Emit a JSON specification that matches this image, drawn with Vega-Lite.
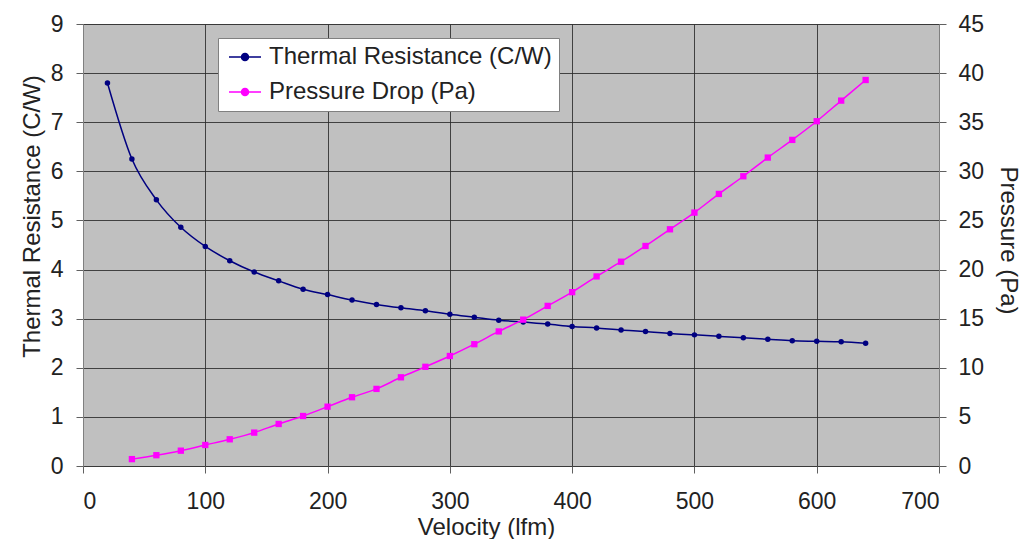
{
  "$schema": "https://vega.github.io/schema/vega-lite/v6.json",
  "width": 856,
  "height": 442,
  "autosize": {"type": "none"},
  "padding": {"left": 83, "top": 24, "right": 90, "bottom": 73},
  "background": "white",
  "config": {
    "font": "Liberation Sans",
    "view": {"fill": "#C0C0C0", "stroke": "#909090", "strokeWidth": 1},
    "axis": {
      "labelFont": "Liberation Sans",
      "titleFont": "Liberation Sans",
      "labelFontSize": 23,
      "titleFontSize": 24,
      "titleFontWeight": "normal",
      "labelColor": "#222222",
      "titleColor": "#222222",
      "domainColor": "#808080",
      "tickColor": "#606060",
      "tickSize": 7,
      "gridColor": "#2a2a2a",
      "gridWidth": 1,
      "gridOpacity": 0.85
    }
  },
  "data": {
    "values": [
      {"v": 20, "series": "Thermal Resistance (C/W)", "val": 7.8},
      {"v": 40, "series": "Thermal Resistance (C/W)", "val": 6.25},
      {"v": 60, "series": "Thermal Resistance (C/W)", "val": 5.42},
      {"v": 80, "series": "Thermal Resistance (C/W)", "val": 4.86},
      {"v": 100, "series": "Thermal Resistance (C/W)", "val": 4.47},
      {"v": 120, "series": "Thermal Resistance (C/W)", "val": 4.18},
      {"v": 140, "series": "Thermal Resistance (C/W)", "val": 3.95},
      {"v": 160, "series": "Thermal Resistance (C/W)", "val": 3.77},
      {"v": 180, "series": "Thermal Resistance (C/W)", "val": 3.6},
      {"v": 200, "series": "Thermal Resistance (C/W)", "val": 3.49},
      {"v": 220, "series": "Thermal Resistance (C/W)", "val": 3.38},
      {"v": 240, "series": "Thermal Resistance (C/W)", "val": 3.29},
      {"v": 260, "series": "Thermal Resistance (C/W)", "val": 3.22},
      {"v": 280, "series": "Thermal Resistance (C/W)", "val": 3.16},
      {"v": 300, "series": "Thermal Resistance (C/W)", "val": 3.09},
      {"v": 320, "series": "Thermal Resistance (C/W)", "val": 3.03},
      {"v": 340, "series": "Thermal Resistance (C/W)", "val": 2.97},
      {"v": 360, "series": "Thermal Resistance (C/W)", "val": 2.93},
      {"v": 380, "series": "Thermal Resistance (C/W)", "val": 2.89},
      {"v": 400, "series": "Thermal Resistance (C/W)", "val": 2.84},
      {"v": 420, "series": "Thermal Resistance (C/W)", "val": 2.81},
      {"v": 440, "series": "Thermal Resistance (C/W)", "val": 2.77},
      {"v": 460, "series": "Thermal Resistance (C/W)", "val": 2.74},
      {"v": 480, "series": "Thermal Resistance (C/W)", "val": 2.7},
      {"v": 500, "series": "Thermal Resistance (C/W)", "val": 2.67},
      {"v": 520, "series": "Thermal Resistance (C/W)", "val": 2.64},
      {"v": 540, "series": "Thermal Resistance (C/W)", "val": 2.61},
      {"v": 560, "series": "Thermal Resistance (C/W)", "val": 2.58},
      {"v": 580, "series": "Thermal Resistance (C/W)", "val": 2.55},
      {"v": 600, "series": "Thermal Resistance (C/W)", "val": 2.54},
      {"v": 620, "series": "Thermal Resistance (C/W)", "val": 2.53},
      {"v": 640, "series": "Thermal Resistance (C/W)", "val": 2.5},
      {"v": 40, "series": "Pressure Drop (Pa)", "val": 0.7},
      {"v": 60, "series": "Pressure Drop (Pa)", "val": 1.1},
      {"v": 80, "series": "Pressure Drop (Pa)", "val": 1.56},
      {"v": 100, "series": "Pressure Drop (Pa)", "val": 2.14},
      {"v": 120, "series": "Pressure Drop (Pa)", "val": 2.72},
      {"v": 140, "series": "Pressure Drop (Pa)", "val": 3.4},
      {"v": 160, "series": "Pressure Drop (Pa)", "val": 4.28},
      {"v": 180, "series": "Pressure Drop (Pa)", "val": 5.09},
      {"v": 200, "series": "Pressure Drop (Pa)", "val": 6.04},
      {"v": 220, "series": "Pressure Drop (Pa)", "val": 7.0},
      {"v": 240, "series": "Pressure Drop (Pa)", "val": 7.85},
      {"v": 260, "series": "Pressure Drop (Pa)", "val": 9.03},
      {"v": 280, "series": "Pressure Drop (Pa)", "val": 10.1},
      {"v": 300, "series": "Pressure Drop (Pa)", "val": 11.2},
      {"v": 320, "series": "Pressure Drop (Pa)", "val": 12.4},
      {"v": 340, "series": "Pressure Drop (Pa)", "val": 13.7},
      {"v": 360, "series": "Pressure Drop (Pa)", "val": 14.9},
      {"v": 380, "series": "Pressure Drop (Pa)", "val": 16.3},
      {"v": 400, "series": "Pressure Drop (Pa)", "val": 17.7},
      {"v": 420, "series": "Pressure Drop (Pa)", "val": 19.3},
      {"v": 440, "series": "Pressure Drop (Pa)", "val": 20.8},
      {"v": 460, "series": "Pressure Drop (Pa)", "val": 22.4},
      {"v": 480, "series": "Pressure Drop (Pa)", "val": 24.1},
      {"v": 500, "series": "Pressure Drop (Pa)", "val": 25.8},
      {"v": 520, "series": "Pressure Drop (Pa)", "val": 27.7},
      {"v": 540, "series": "Pressure Drop (Pa)", "val": 29.5},
      {"v": 560, "series": "Pressure Drop (Pa)", "val": 31.4},
      {"v": 580, "series": "Pressure Drop (Pa)", "val": 33.2},
      {"v": 600, "series": "Pressure Drop (Pa)", "val": 35.1},
      {"v": 620, "series": "Pressure Drop (Pa)", "val": 37.2},
      {"v": 640, "series": "Pressure Drop (Pa)", "val": 39.3}
    ]
  },
  "encoding": {
    "x": {
      "field": "v",
      "type": "quantitative",
      "scale": {"domain": [0, 700], "nice": false},
      "axis": {
        "title": "Velocity (lfm)",
        "values": [0, 100, 200, 300, 400, 500, 600, 700],
        "labelPadding": 17,
        "titleX": 403,
        "titleY": 49,
        "titleBaseline": "top",
        "grid": true,
        "domain": false
      }
    },
    "color": {
      "field": "series",
      "type": "nominal",
      "scale": {
        "domain": ["Thermal Resistance (C/W)", "Pressure Drop (Pa)"],
        "range": ["#000080", "#FF00FF"]
      },
      "legend": {
        "title": null,
        "orient": "none",
        "legendX": 135,
        "legendY": 14,
        "fillColor": "white",
        "strokeColor": "#808080",
        "padding": 7,
        "symbolOffset": 8,
        "labelFontSize": 24,
        "labelFont": "Liberation Sans",
        "labelColor": "#222222",
        "labelOffset": 12,
        "labelLimit": 400,
        "rowPadding": 11,
        "symbolType": "M-1.6,0H1.6M-0.35,0A0.35,0.35 0 1,1 0.35,0A0.35,0.35 0 1,1 -0.35,0Z",
        "symbolSize": 400,
        "symbolStrokeWidth": 1.5,
        "symbolFillColor": null
      }
    }
  },
  "layer": [
    {
      "transform": [{"filter": "datum.series === 'Thermal Resistance (C/W)'"}],
      "encoding": {
        "y": {
          "field": "val",
          "type": "quantitative",
          "scale": {"domain": [0, 9], "nice": false},
          "axis": {
            "title": "Thermal Resistance (C/W)",
            "orient": "left",
            "values": [0, 1, 2, 3, 4, 5, 6, 7, 8, 9],
            "grid": true,
            "labelPadding": 13,
            "titlePadding": 6,
            "titleY": 192
          }
        }
      },
      "layer": [
        {"mark": {"type": "line", "interpolate": "monotone", "strokeWidth": 1.5}},
        {"mark": {"type": "point", "shape": "circle", "filled": true, "size": 30, "opacity": 1}}
      ]
    },
    {
      "transform": [{"filter": "datum.series === 'Pressure Drop (Pa)'"}],
      "encoding": {
        "y": {
          "field": "val",
          "type": "quantitative",
          "scale": {"domain": [0, 45], "nice": false},
          "axis": {
            "title": "Pressure (Pa)",
            "orient": "right",
            "values": [0, 5, 10, 15, 20, 25, 30, 35, 40, 45],
            "grid": false,
            "labelPadding": 12,
            "titlePadding": 12,
            "titleY": 216
          }
        }
      },
      "layer": [
        {"mark": {"type": "line", "interpolate": "monotone", "strokeWidth": 1.5, "color": "#E040E0"}},
        {"mark": {"type": "point", "shape": "square", "filled": true, "size": 40, "opacity": 1}}
      ]
    }
  ],
  "resolve": {"scale": {"y": "independent"}}
}
